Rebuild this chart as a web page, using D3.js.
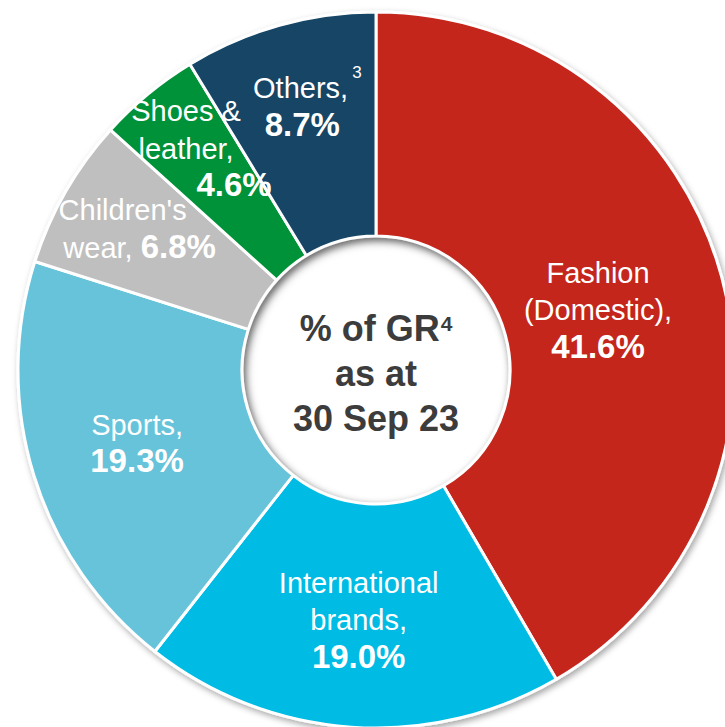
<!DOCTYPE html>
<html>
<head>
<meta charset="utf-8">
<script src="https://cdn.jsdelivr.net/npm/d3@7"></script>
<style>
	body { margin: 0; background: #fff; }
	svg { display: block; }
	text { font-family: "Liberation Sans", Arial, sans-serif; }
</style>
</head>
<body>
<svg id="chart"></svg>
<script>
// data
var categories = ["Fashion (Domestic)", "International brands", "Sports", "Children's wear", "Shoes & leather", "Others"];
var shares = [41.6, 19.0, 19.3, 6.8, 4.6, 8.7];
var labelLines = [["Fashion", "(Domestic),"], ["International", "brands,"], ["Sports,"], ["Children's", "wear, "], ["Shoes &", "leather,"], ["Others,"]];
var pctInline = [false, false, false, true, false, false];
var footnoteMarks = ["", "", "", "", "", "3"];
var centerLines = ["% of GR", "as at", "30 Sep 23"];
var centerMark = "4";
var colors = ["#c4261f", "#00bce4", "#66c3da", "#bfbfbf", "#009239", "#134565"];

// layout
var width = 725, height = 727;
var cx = 376, cy = 370, outerR = 358, innerR = 134;
var labelR = [230, 251, 250, 283, 287, 273];
var lineShift = [[0, 0, 0], [0, 0, 0], [0, 0], [-8, 9], [-7, -7, 41], [5, 0]];
var lineHeight = 37.5;

var svg = d3.select("#chart").attr("width", width).attr("height", height);
var defs = svg.append("defs");

var shadow = defs.append("filter").attr("id", "shadow")
	.attr("x", "-10%").attr("y", "-10%").attr("width", "120%").attr("height", "120%");
shadow.append("feDropShadow")
	.attr("dx", 2).attr("dy", 3).attr("stdDeviation", 3)
	.attr("flood-color", "#000").attr("flood-opacity", 0.35);

var blur = defs.append("filter").attr("id", "blur")
	.attr("x", "-20%").attr("y", "-20%").attr("width", "140%").attr("height", "140%");
blur.append("feGaussianBlur").attr("stdDeviation", 5);

defs.append("clipPath").attr("id", "hole")
	.append("circle").attr("r", innerR - 1.5);

var data = categories.map(function(c, i) {
	return { name: c, share: shares[i], i: i };
});

var pie = d3.pie().sort(null).value(function(d) { return d.share; });
var arc = d3.arc().innerRadius(innerR).outerRadius(outerR);
var fmt = d3.format(".1f");

var g = svg.append("g").attr("transform", "translate(" + cx + "," + cy + ")");

g.append("g")
	.attr("filter", "url(#shadow)")
	.selectAll("path")
	.data(pie(data))
	.enter().append("path")
	.attr("d", arc)
	.attr("fill", function(d) { return colors[d.data.i]; })
	.attr("stroke", "#fff")
	.attr("stroke-width", 3)
	.attr("stroke-linejoin", "round");

// inner shadow of the hole
g.append("g")
	.attr("clip-path", "url(#hole)")
	.append("circle")
	.attr("cx", 3).attr("cy", 4)
	.attr("r", innerR + 8)
	.attr("fill", "none")
	.attr("stroke", "#000")
	.attr("stroke-opacity", 0.38)
	.attr("stroke-width", 18)
	.attr("filter", "url(#blur)");

// slice labels
pie(data).forEach(function(d) {
	var i = d.data.i;
	var mid = (d.startAngle + d.endAngle) / 2;
	var ax = Math.sin(mid) * labelR[i];
	var ay = -Math.cos(mid) * labelR[i];
	var pct = fmt(d.data.share) + "%";
	var lines = labelLines[i].map(function(t) { return [{ text: t, bold: false }]; });
	if (pctInline[i]) {
		lines[lines.length - 1].push({ text: pct, bold: true });
	} else {
		lines.push([{ text: pct, bold: true }]);
	}
	if (footnoteMarks[i]) {
		lines[0].push({ text: footnoteMarks[i], sup: true });
	}
	var n = lines.length;
	lines.forEach(function(parts, k) {
		var t = g.append("text")
			.attr("x", ax + lineShift[i][k])
			.attr("y", ay + (k - (n - 1) / 2) * lineHeight + 10)
			.attr("text-anchor", "middle")
			.attr("fill", "#fff");
		parts.forEach(function(p) {
			var s = t.append("tspan").text(p.text);
			if (p.sup) {
				s.attr("font-size", 17).attr("dx", 4).attr("dy", -20);
			} else {
				s.attr("font-size", p.bold ? 33 : 29).attr("font-weight", p.bold ? "bold" : "normal");
			}
		});
	});
});

// centre text
centerLines.forEach(function(line, k) {
	var t = g.append("text")
		.attr("x", 0)
		.attr("y", (k - 1) * 45 + 16)
		.attr("text-anchor", "middle")
		.attr("fill", "#3c3c3c")
		.attr("font-size", 36)
		.attr("font-weight", "bold");
	t.append("tspan").text(line);
	if (k === 0) {
		t.append("tspan").text(centerMark)
			.attr("font-size", 21)
			.attr("dx", 1)
			.attr("dy", -10);
	}
});
</script>
</body>
</html>
